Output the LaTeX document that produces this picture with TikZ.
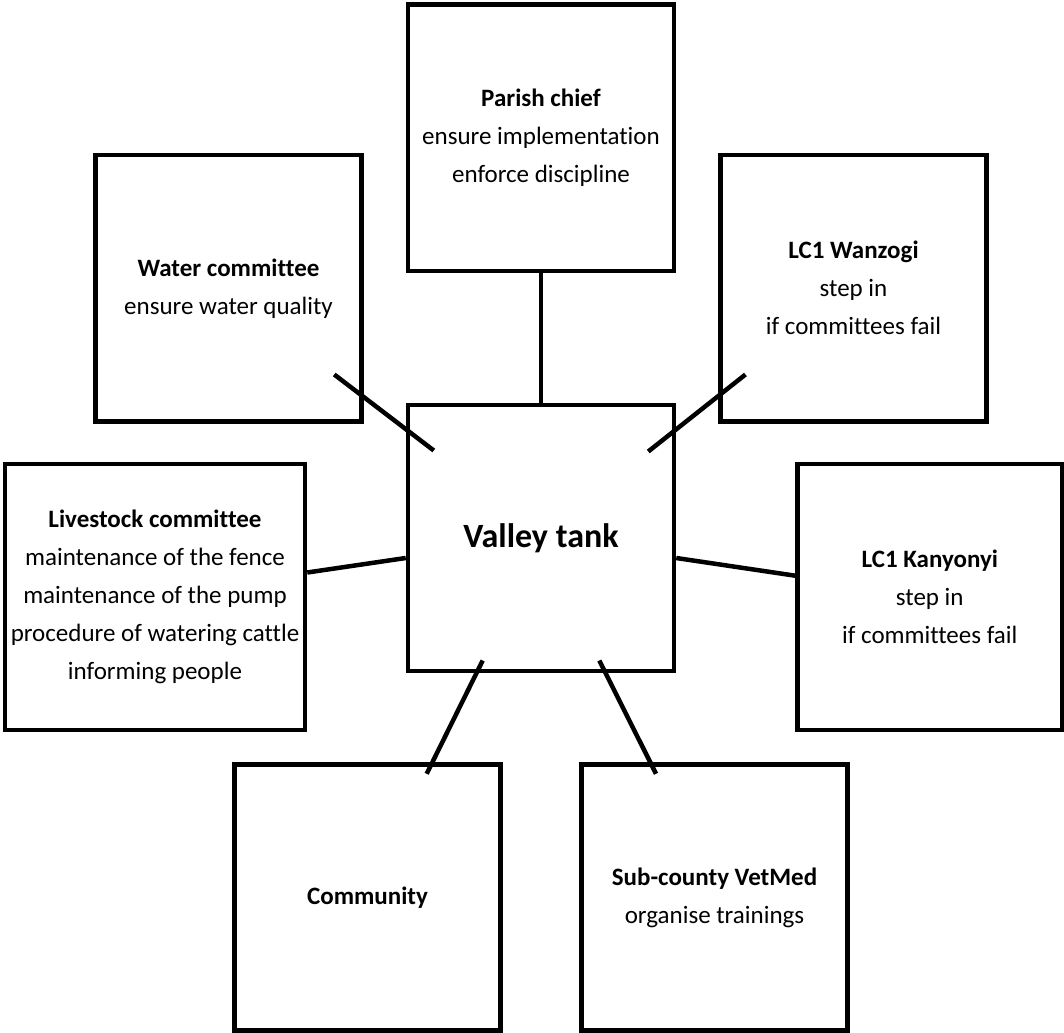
\documentclass[tikz,border=0pt]{standalone}
\usepackage{fontspec}
\setmainfont{Carlito}[Ligatures=NoCommon]
\usepackage{tikz}
\tikzset{%
  actor/.style = {
    draw, line width=4.5pt, align=center, inner sep=0pt,
    minimum width=266pt, minimum height=266pt,
    font=\fontsize{25}{38}\selectfont
  },
  tank/.style = {actor, font=\fontsize{34}{40}\selectfont\bfseries},
  link/.style = {draw, line width=4.5pt}
}

\begin{document}
\begin{tikzpicture}[x=1pt, y=-1pt]
  \useasboundingbox (0,0) rectangle (1064,1032);
  \node[tank] (valley) at (541,537.75) {Valley tank};
  \node[actor] (parish) at (541,137.75)
    {\textbf{Parish chief}\\ensure implementation\\enforce discipline};
  \node[actor] (water) at (228.5,288.25)
    {\textbf{Water committee}\\ensure water quality};
  \node[actor] (wanzogi) at (853.5,288.25)
    {\textbf{LC1 Wanzogi}\\step in\\if committees fail};
  \node[actor, minimum width=300pt] (livestock) at (155,597)
    {\textbf{Livestock committee}\\maintenance of the fence\\maintenance of the pump\\procedure of watering cattle\\informing people};
  \node[actor, minimum width=264.5pt] (kanyonyi) at (929.75,597)
    {\textbf{LC1 Kanyonyi}\\step in\\if committees fail};
  \node[actor] (community) at (367.5,897.5) {\textbf{Community}};
  \node[actor] (vetmed) at (714.5,897.5)
    {\textbf{Sub-county VetMed}\\organise trainings};

  \draw[link] (parish.south) -- (valley.north);
  \draw[link] ([shift={(-29.5,-49)}]water.south east) -- ([shift={(28,48)}]valley.north west);
  \draw[link] ([shift={(27.2,-49)}]wanzogi.south west) -- ([shift={(-28,49)}]valley.north east);
  \draw[link] ([yshift=24.5pt]livestock.east) -- ([yshift=-20.25pt]valley.west);
  \draw[link] ([yshift=-20.25pt]valley.east) -- ([yshift=21.3pt]kanyonyi.west);
  \draw[link] ([shift={(-58.3,-12.5)}]valley.south) -- ([shift={(59.2,11.5)}]community.north);
  \draw[link] ([shift={(58.3,-12.5)}]valley.south) -- ([shift={(-58.5,11.5)}]vetmed.north);
\end{tikzpicture}
\end{document}
